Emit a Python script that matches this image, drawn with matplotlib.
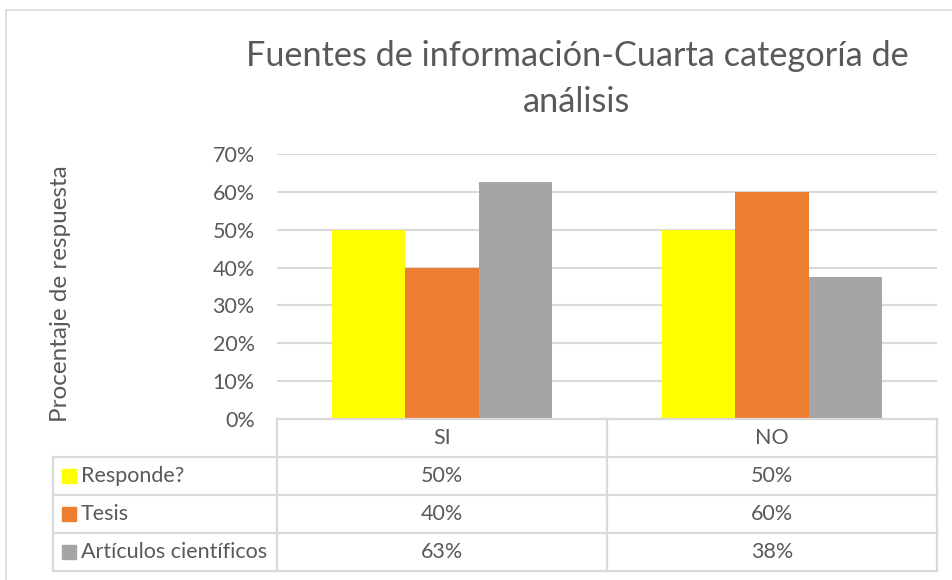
import matplotlib
matplotlib.use("Agg")
import matplotlib.pyplot as plt
from matplotlib.transforms import blended_transform_factory
from matplotlib.patches import Rectangle
from matplotlib.lines import Line2D

categories = ["SI", "NO"]
series_names = ["Responde?", "Tesis", "Artículos científicos"]
responde = [0.50, 0.50]
tesis = [0.40, 0.60]
articulos = [0.625, 0.375]
table_labels = [["50%", "50%"], ["40%", "60%"], ["63%", "38%"]]
yticks = [0.0, 0.1, 0.2, 0.3, 0.4, 0.5, 0.6, 0.7]
ytick_labels = ["0%", "10%", "20%", "30%", "40%", "50%", "60%", "70%"]
title = "Fuentes de información-Cuarta categoría de\nanálisis"
ylabel = "Procentaje de respuesta"

colors = ["#FFFF00", "#ED7D31", "#A5A5A5"]
txt = "#595959"
grid = "#D9D9D9"
plt.rcParams['font.family'] = ['Lato', 'DejaVu Sans']

W, H = 952, 580
fig = plt.figure(figsize=(W / 100, H / 100), dpi=100)

def fx(px):
    return px / W

def fy(py):
    return 1 - py / H

# outer chart border
fig.add_artist(Line2D([fx(6), fx(6)], [fy(10), 0], color="#D9D9D9", lw=1.2, transform=fig.transFigure))
fig.add_artist(Line2D([fx(6), 1], [fy(10), fy(10)], color="#D9D9D9", lw=1.2, transform=fig.transFigure))

left, right, top, bottom = 277, 937, 154, 419
ax = fig.add_axes([fx(left), fy(bottom), fx(right) - fx(left), fy(top) - fy(bottom)])
ax.set_xlim(-0.5, 1.5)
ax.set_ylim(0, 0.7)

series = [responde, tesis, articulos]
n = len(series)
bw = 1 / (n + 1.5)
for i, vals in enumerate(series):
    xs = [j + (i - (n - 1) / 2) * bw for j in range(len(categories))]
    ax.bar(xs, vals, width=bw, color=colors[i], zorder=3)

fs = 15.5
ax.set_yticks(yticks)
ax.set_yticklabels(ytick_labels, fontsize=fs, color=txt)
ax.tick_params(axis="y", length=0, pad=16)
ax.set_xticks([])
for s in ax.spines.values():
    s.set_visible(False)
ax.yaxis.grid(True, color=grid, lw=1.5, zorder=0)
ax.set_axisbelow(True)

fig.text(fx(61), fy(294), ylabel, rotation=90, ha="center", va="center", fontsize=17.5, color=txt)
fig.text(fx(577), fy(79), title, ha="center", va="center", fontsize=24.7, color=txt, linespacing=1.5)

# data table
row_h = 38
t_top = bottom
rows_y = [t_top + k * row_h for k in range(5)]  # pixel y boundaries
tb = blended_transform_factory(ax.transData, fig.transFigure)
leg_left = 53
lw_t = 1.6
fig.add_artist(Line2D([fx(left), fx(right)], [fy(rows_y[0]), fy(rows_y[0])], color=grid, lw=lw_t, transform=fig.transFigure))
for k in range(1, 5):
    fig.add_artist(Line2D([fx(leg_left), fx(right)], [fy(rows_y[k]), fy(rows_y[k])], color=grid, lw=lw_t, transform=fig.transFigure))
for xb in [-0.5, 0.5, 1.5]:
    fig.add_artist(Line2D([xb, xb], [fy(rows_y[0]), fy(rows_y[4])], color=grid, lw=lw_t, transform=tb))
fig.add_artist(Line2D([fx(leg_left), fx(leg_left)], [fy(rows_y[1]), fy(rows_y[4])], color=grid, lw=lw_t, transform=fig.transFigure))

for j, c in enumerate(categories):
    fig.text(j, fy((rows_y[0] + rows_y[1]) / 2), c, ha="center", va="center", fontsize=fs, color=txt, transform=tb)
for i, name in enumerate(series_names):
    yc = (rows_y[i + 1] + rows_y[i + 2]) / 2
    fig.add_artist(Rectangle((fx(62), fy(yc + 7)), fx(14), 14 / H, color=colors[i], transform=fig.transFigure))
    fig.text(fx(81), fy(yc), name, ha="left", va="center", fontsize=fs, color=txt)
    for j in range(len(categories)):
        fig.text(j, fy(yc), table_labels[i][j], ha="center", va="center", fontsize=fs, color=txt, transform=tb)

fig.savefig("out.png", dpi=100)
